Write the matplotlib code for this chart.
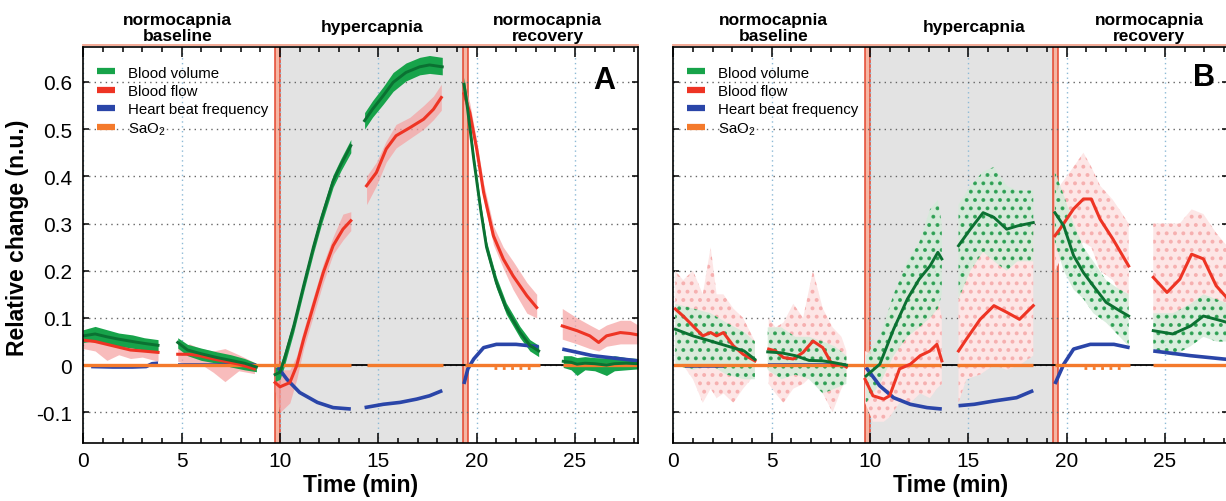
import matplotlib.pyplot as plt
from matplotlib.lines import Line2D
from matplotlib.transforms import blended_transform_factory

plt.rcParams['font.family'] = ['Liberation Sans', 'DejaVu Sans']
plt.rcParams['mathtext.fontset'] = 'custom'
plt.rcParams['mathtext.rm'] = 'Liberation Sans'
plt.rcParams['mathtext.default'] = 'regular'
plt.rcParams['hatch.linewidth'] = 1.6

# ---- panel A : smoothed curves + envelope of raw samples, one list per recording segment
a_vol_t = [[0.0, 0.6, 1.2, 1.8, 2.5, 3.1, 3.8],
           [4.8, 5.3, 6.0, 6.8, 7.5, 8.2, 8.8],
           [9.75, 10.0, 10.2, 10.7, 11.2, 11.7, 12.1, 12.7, 13.1, 13.6],
           [14.3, 14.7, 15.25, 15.75, 16.4, 17.1, 17.6, 18.25],
           [19.35, 19.5, 19.85, 20.2, 20.5, 21.0, 21.5, 22.2, 22.7, 23.15],
           [24.4, 24.8, 25.1, 25.5, 26.0, 26.6, 27.0, 27.6, 28.2]]
a_vol = [[0.062, 0.066, 0.060, 0.055, 0.050, 0.046, 0.042],
         [0.048, 0.032, 0.024, 0.016, 0.010, 0.004, -0.004],
         [-0.02, -0.015, 0.01, 0.083, 0.168, 0.25, 0.31, 0.39, 0.425, 0.465],
         [0.518, 0.542, 0.571, 0.599, 0.62, 0.632, 0.636, 0.632],
         [0.595, 0.555, 0.436, 0.33, 0.25, 0.175, 0.12, 0.07, 0.042, 0.03],
         [0.008, 0.006, 0.002, 0.004, 0.003, 0.0, 0.003, 0.004, 0.003]]
a_vol_lo = [[0.048, 0.052, 0.046, 0.040, 0.036, 0.032, 0.028],
            [0.036, 0.020, 0.010, 0.004, -0.004, -0.010, -0.014],
            [-0.035, -0.03, -0.005, 0.07, 0.155, 0.237, 0.297, 0.377, 0.412, 0.45],
            [0.5, 0.525, 0.553, 0.58, 0.602, 0.615, 0.618, 0.615],
            [0.58, 0.54, 0.424, 0.318, 0.238, 0.163, 0.108, 0.058, 0.03, 0.018],
            [-0.005, -0.01, -0.022, -0.01, -0.012, -0.022, -0.012, -0.01, -0.008]]
a_vol_hi = [[0.075, 0.082, 0.075, 0.068, 0.064, 0.058, 0.054],
            [0.058, 0.044, 0.036, 0.028, 0.022, 0.014, 0.004],
            [-0.005, 0.0, 0.025, 0.096, 0.181, 0.263, 0.323, 0.403, 0.438, 0.478],
            [0.535, 0.56, 0.59, 0.62, 0.64, 0.652, 0.656, 0.652],
            [0.61, 0.57, 0.448, 0.342, 0.262, 0.187, 0.132, 0.082, 0.054, 0.042],
            [0.02, 0.02, 0.016, 0.018, 0.016, 0.015, 0.02, 0.016, 0.014]]

a_flow_t = [[0.0, 0.6, 1.2, 1.8, 2.4, 3.0, 3.8],
            [4.8, 5.4, 5.9, 6.6, 7.2, 7.9, 8.7],
            [9.75, 10.0, 10.5, 10.85, 11.2, 11.7, 12.2, 12.7, 13.2, 13.6],
            [14.4, 14.9, 15.4, 15.9, 16.6, 17.3, 17.8, 18.2],
            [19.35, 19.65, 20.0, 20.35, 20.85, 21.35, 21.85, 22.55, 23.05],
            [24.35, 25.1, 25.75, 26.2, 26.6, 27.3, 27.8, 28.2]]
a_flow = [[0.053, 0.05, 0.044, 0.038, 0.032, 0.03, 0.027],
          [0.023, 0.023, 0.02, 0.013, 0.008, 0.002, -0.008],
          [-0.037, -0.046, -0.037, -0.001, 0.055, 0.126, 0.196, 0.253, 0.288, 0.306],
          [0.38, 0.408, 0.458, 0.486, 0.503, 0.521, 0.542, 0.567],
          [0.575, 0.535, 0.458, 0.366, 0.274, 0.225, 0.189, 0.147, 0.122],
          [0.083, 0.073, 0.062, 0.048, 0.062, 0.069, 0.067, 0.064]]
a_flow_lo = [[0.035, 0.03, 0.01, 0.022, 0.014, 0.017, 0.008],
             [0.008, 0.0, 0.004, -0.015, -0.035, -0.012, -0.018],
             [-0.055, -0.1, -0.08, -0.03, 0.035, 0.105, 0.175, 0.235, 0.265, 0.285],
             [0.34, 0.38, 0.43, 0.46, 0.48, 0.5, 0.52, 0.54],
             [0.555, 0.515, 0.44, 0.35, 0.255, 0.205, 0.16, 0.11, 0.1],
             [0.055, 0.045, 0.035, 0.03, 0.04, 0.045, 0.045, 0.045]]
a_flow_hi = [[0.07, 0.068, 0.07, 0.056, 0.052, 0.05, 0.045],
             [0.036, 0.045, 0.036, 0.03, 0.035, 0.022, 0.006],
             [-0.015, -0.01, -0.01, 0.02, 0.075, 0.145, 0.215, 0.272, 0.32, 0.325],
             [0.40, 0.43, 0.475, 0.51, 0.525, 0.55, 0.57, 0.595],
             [0.6, 0.555, 0.475, 0.385, 0.295, 0.25, 0.22, 0.175, 0.15],
             [0.12, 0.1, 0.085, 0.075, 0.085, 0.095, 0.095, 0.085]]

a_hr_t = [[0.4, 1.5, 2.5, 3.2, 3.5, 3.8],
          [4.8, 8.8],
          [9.9, 10.35, 11.0, 11.9, 12.7, 13.6],
          [14.3, 15.25, 16.1, 16.95, 17.6, 18.25],
          [19.35, 19.55, 19.85, 20.35, 21.0, 22.0, 23.15],
          [24.35, 25.9, 28.2]]
a_hr = [[-0.003, -0.004, -0.004, -0.003, 0.003, 0.004],
        [0.0, 0.0],
        [-0.005, -0.03, -0.058, -0.079, -0.09, -0.093],
        [-0.09, -0.083, -0.079, -0.072, -0.065, -0.054],
        [-0.04, -0.008, 0.013, 0.037, 0.044, 0.044, 0.039],
        [0.034, 0.02, 0.009]]

# ---- panel B
b_vol_t = [[0.1, 1.0, 1.9, 2.7, 3.6, 4.15],
           [4.8, 5.5, 6.2, 6.9, 7.6, 8.2, 8.8],
           [9.8, 10.5, 11.2, 11.9, 12.5, 13.05, 13.45, 13.65],
           [14.5, 15.1, 15.75, 16.3, 16.95, 17.5, 18.3],
           [19.4, 19.85, 20.35, 20.85, 21.35, 22.0, 22.7, 23.15],
           [24.4, 25.4, 26.3, 26.95, 27.6, 28.2]]
b_vol = [[0.076, 0.062, 0.051, 0.041, 0.03, 0.012],
         [0.028, 0.026, 0.02, 0.01, 0.009, 0.005, 0.0],
         [-0.023, 0.002, 0.076, 0.14, 0.182, 0.21, 0.239, 0.225],
         [0.253, 0.288, 0.323, 0.313, 0.288, 0.295, 0.302],
         [0.323, 0.295, 0.232, 0.196, 0.168, 0.133, 0.115, 0.104],
         [0.073, 0.066, 0.083, 0.104, 0.097, 0.09]]
b_vol_lo = [[0.0, -0.01, 0.0, -0.02, -0.03, -0.03],
            [-0.01, -0.03, -0.02, -0.03, -0.06, -0.05, -0.04],
            [-0.08, -0.04, 0.02, 0.06, 0.08, 0.1, 0.12, 0.15],
            [0.14, 0.2, 0.24, 0.22, 0.2, 0.22, 0.22],
            [0.26, 0.2, 0.16, 0.14, 0.11, 0.09, 0.06, 0.04],
            [0.03, 0.02, 0.04, 0.06, 0.05, 0.05]]
b_vol_hi = [[0.13, 0.12, 0.11, 0.09, 0.07, 0.05],
            [0.08, 0.08, 0.06, 0.06, 0.05, 0.04, 0.02],
            [0.02, 0.06, 0.15, 0.22, 0.26, 0.33, 0.35, 0.3],
            [0.34, 0.38, 0.41, 0.42, 0.38, 0.37, 0.37],
            [0.41, 0.36, 0.3, 0.25, 0.22, 0.18, 0.16, 0.15],
            [0.11, 0.11, 0.13, 0.15, 0.14, 0.13]]

b_flow_t = [[0.1, 0.5, 1.0, 1.5, 1.9, 2.2, 2.55, 3.05, 3.55, 4.15],
            [4.85, 5.2, 5.6, 6.1, 6.6, 7.1, 7.6, 8.1, 8.55, 8.8],
            [9.75, 10.15, 10.7, 11.0, 11.5, 12.05, 12.55, 13.05, 13.4, 13.65],
            [14.5, 14.9, 15.6, 16.3, 16.95, 17.6, 18.3],
            [19.4, 19.65, 20.35, 20.85, 21.25, 21.7, 22.35, 23.15],
            [24.4, 25.1, 25.75, 26.35, 26.95, 27.6, 28.2]]
b_flow = [[0.119, 0.104, 0.083, 0.062, 0.069, 0.062, 0.069, 0.041, 0.023, 0.009],
          [0.034, 0.03, 0.016, 0.013, 0.027, 0.051, 0.037, -0.001, 0.002, -0.004],
          [-0.03, -0.065, -0.072, -0.065, -0.008, 0.002, 0.02, 0.03, 0.044, 0.009],
          [0.03, 0.055, 0.097, 0.126, 0.112, 0.097, 0.126],
          [0.274, 0.288, 0.331, 0.352, 0.352, 0.309, 0.267, 0.21],
          [0.186, 0.154, 0.182, 0.235, 0.225, 0.168, 0.14]]
b_flow_lo = [[0.02, 0.0, -0.03, -0.08, -0.05, -0.07, -0.06, -0.08, -0.05, -0.02],
             [-0.04, -0.06, -0.08, -0.05, -0.04, -0.02, -0.06, -0.1, -0.05, -0.03],
             [-0.08, -0.12, -0.12, -0.11, -0.08, -0.08, -0.06, -0.07, -0.05, -0.04],
             [-0.08, -0.03, -0.02, 0.0, -0.01, 0.0, 0.02],
             [0.2, 0.22, 0.24, 0.26, 0.25, 0.2, 0.18, 0.12],
             [0.1, 0.05, 0.08, 0.12, 0.12, 0.1, 0.08]]
b_flow_hi = [[0.2, 0.18, 0.2, 0.15, 0.25, 0.15, 0.15, 0.12, 0.1, 0.05],
             [0.1, 0.08, 0.09, 0.13, 0.1, 0.2, 0.12, 0.08, 0.06, 0.03],
             [0.03, 0.02, 0.05, 0.12, 0.14, 0.16, 0.18, 0.15, 0.16, 0.1],
             [0.15, 0.2, 0.26, 0.28, 0.25, 0.25, 0.3],
             [0.36, 0.38, 0.42, 0.45, 0.42, 0.38, 0.35, 0.3],
             [0.3, 0.3, 0.3, 0.33, 0.32, 0.28, 0.25]]

b_hr_t = [[0.6, 2.6],
          [4.8, 8.8],
          [9.8, 10.5, 11.2, 12.05, 12.9, 13.65],
          [14.5, 15.3, 16.3, 17.45, 18.3],
          [19.4, 19.85, 20.35, 21.2, 22.4, 23.2],
          [24.4, 26.3, 28.2]]
b_hr = [[-0.001, -0.001],
        [0.0, 0.0],
        [-0.005, -0.044, -0.069, -0.083, -0.09, -0.093],
        [-0.086, -0.083, -0.076, -0.069, -0.054],
        [-0.04, 0.002, 0.034, 0.044, 0.044, 0.037],
        [0.03, 0.02, 0.012]]

# SaO2 (same in both panels)
sao2_t = [[0.0, 13.6], [14.4, 18.3], [19.4, 23.2], [24.4, 28.3]]
sao2 = [[0.0, 0.0], [0.0, 0.0], [0.0, 0.0], [0.0, 0.0]]
sao2_dip_t = [20.9, 22.9]
sao2_dip = [-0.007, -0.007]

phase_names = ['normocapnia\nbaseline', 'hypercapnia', 'normocapnia\nrecovery']
legend_labels = ['Blood volume', 'Blood flow', 'Heart beat frequency', 'SaO$_2$']
y_ticks = [-0.1, 0, 0.1, 0.2, 0.3, 0.4, 0.5, 0.6]
y_labels = ['-0.1', '0', '0.1', '0.2', '0.3', '0.4', '0.5', '0.6']
x_ticks = [0, 5, 10, 15, 20, 25]

GREEN = '#17a34a'
DKGREEN = '#0b7132'
RED = '#ee3424'
PINK = '#f6a0a0'
BLUE = '#2a45a8'
ORANGE = '#f47a2c'
BAND = '#f3a48e'
BANDLINE = '#e4472f'


def draw(ax, vt, v, vlo, vhi, ft, f, flo, fhi, ht, h, letter, letter_xy, phase_x, cloud):
    ax.set_xlim(0, 28.2)
    ax.set_ylim(-0.165, 0.674)
    ax.axvspan(9.98, 19.3, color='#e3e3e3', lw=0, zorder=0)
    for a, b in [(9.73, 9.98), (19.3, 19.56)]:
        ax.axvspan(a, b, color=BAND, alpha=0.8, lw=0, zorder=1)
        ax.axvline(a, color=BANDLINE, lw=1.1, zorder=1.2)
        ax.axvline(b, color=BANDLINE, lw=1.1, zorder=1.2)

    ax.set_axisbelow(False)
    ax.xaxis.grid(True, color='#8dbad6', ls=(0, (1, 2.5)), lw=1.0)
    ax.yaxis.grid(True, color='#666666', ls=(0, (1, 3)), lw=1.0)
    ax.axhline(0, color='black', lw=1.3, zorder=2.7)

    for t, lo, hi in zip(ft, flo, fhi):
        if cloud:
            ax.fill_between(t, lo, hi, facecolor='#fde6e6', edgecolor='#f6b0b0',
                            hatch='..', lw=0, zorder=3)
        else:
            ax.fill_between(t, lo, hi, color=PINK, alpha=0.7, lw=0, zorder=3)
    for t, lo, hi in zip(vt, vlo, vhi):
        if cloud:
            ax.fill_between(t, lo, hi, facecolor='#d4ebd9', edgecolor='#1f9a48',
                            hatch='..', lw=0, alpha=0.85, zorder=3.2)
        else:
            ax.fill_between(t, lo, hi, color=GREEN, lw=0, zorder=3.2)

    for t, y in zip(ht, h):
        ax.plot(t, y, color=BLUE, lw=2.6, zorder=4.4, solid_capstyle='butt')
    for t, y in zip(sao2_t, sao2):
        ax.plot(t, y, color=ORANGE, lw=2.4, zorder=4.5, solid_capstyle='butt')
    ax.plot(sao2_dip_t, sao2_dip, color=ORANGE, lw=2.0, ls=(0, (1, 2)), zorder=4.5)
    for t, y in zip(ft, f):
        ax.plot(t, y, color=RED, lw=2.2, zorder=5)
    for t, y in zip(vt, v):
        ax.plot(t, y, color=DKGREEN, lw=2.1, zorder=5.1)

    ax.xaxis.set_ticks(x_ticks)
    ax.xaxis.set_ticks(range(0, 29), minor=True)
    ax.set_yticks(y_ticks)
    ax.tick_params(axis='x', which='both', direction='in', top=True, bottom=True,
                   labelsize=15, pad=6, width=1.1)
    ax.tick_params(axis='x', which='major', length=7)
    ax.tick_params(axis='x', which='minor', length=3.5)
    ax.tick_params(axis='y', direction='in', left=True, right=True, length=4,
                   width=1.1, labelsize=15, pad=8)
    for s in ax.spines.values():
        s.set_linewidth(1.2)
        s.set_zorder(10)
    ax.plot([0, 1], [1.006, 1.006], transform=ax.transAxes, clip_on=False,
            color=BAND, lw=1.3, zorder=9)

    ax.set_xlabel('Time (min)', fontsize=16.5, fontweight='bold', labelpad=2)

    tr = blended_transform_factory(ax.transData, ax.transAxes)
    for name, x in zip(phase_names, phase_x):
        yy = 1.049 if '\n' in name else 1.052
        ax.text(x, yy, name, transform=tr, ha='center', va='center',
                fontsize=12.5, fontweight='bold', linespacing=1.02, zorder=11)
    ax.text(letter_xy[0], letter_xy[1], letter, ha='center', va='center',
            fontsize=22, fontweight='bold', zorder=8)

    handles = [Line2D([], [], color=c, lw=4.5, solid_capstyle='butt')
               for c in (GREEN, RED, BLUE, ORANGE)]
    ax.legend(handles, legend_labels, loc='upper left', bbox_to_anchor=(0.024, 0.953),
              frameon=False, fontsize=10.8, handlelength=1.2, handletextpad=0.9,
              labelspacing=0.28, borderpad=0, borderaxespad=0)


fig = plt.figure(figsize=(12.26, 5.02), dpi=100)
axA = fig.add_axes([83.3 / 1226, 1 - 444 / 502, 554.7 / 1226, 396 / 502])
axB = fig.add_axes([673.3 / 1226, 1 - 444 / 502, 554.7 / 1226, 396 / 502])

draw(axA, a_vol_t, a_vol, a_vol_lo, a_vol_hi, a_flow_t, a_flow, a_flow_lo, a_flow_hi,
     a_hr_t, a_hr, 'A', (26.5, 0.604), [4.8, 14.7, 23.6], cloud=False)
draw(axB, b_vol_t, b_vol, b_vol_lo, b_vol_hi, b_flow_t, b_flow, b_flow_lo, b_flow_hi,
     b_hr_t, b_hr, 'B', (27.0, 0.61), [5.1, 15.3, 24.2], cloud=True)

axA.set_yticklabels(y_labels)
axA.set_ylabel('Relative change (n.u.)', fontsize=16.5, fontweight='bold')
axA.yaxis.set_label_coords(-0.097, 0.52)
axB.tick_params(axis='y', labelleft=False)

fig.savefig('out.png', dpi=100)
